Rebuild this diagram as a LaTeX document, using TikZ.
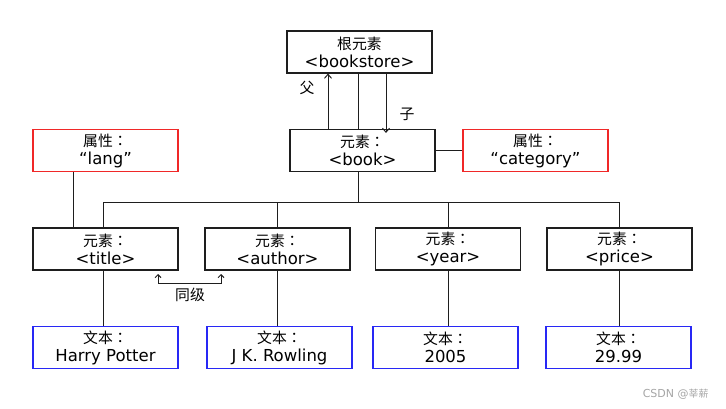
\documentclass[tikz,border=0pt]{standalone}
\usepackage{fontspec}
\setmainfont{DejaVu Sans}
\newfontfamily\cjk[Scale=0.9]{Noto Sans CJK TC}
\usetikzlibrary{arrows.meta}

\definecolor{attrred}{RGB}{240,40,40}
\definecolor{textblue}{RGB}{40,40,245}
\definecolor{linegray}{RGB}{30,30,30}

\tikzset{
  box/.style={draw=linegray, line width=1.1pt, minimum width=145, minimum height=42,
    inner sep=0pt, align=center, font=\fontsize{16.5}{18}\selectfont},
  elem/.style={box},
  attr/.style={box, draw=attrred},
  txt/.style={box, draw=textblue},
  link/.style={draw=linegray, line width=1pt},
  flow/.style={link, -{Straight Barb[length=4pt,width=7pt]}},
  lbl/.style={font=\fontsize{16.5}{18}\selectfont\cjk}
}

\begin{document}
\begin{tikzpicture}[x=1pt,y=-1pt]
\useasboundingbox (0,0) rectangle (726,409);

% Zeilen
\def\ya{52}    % Wurzel
\def\yb{150.5} % book / Attribute
\def\yc{249}   % Elemente
\def\yd{347.5} % Texte

% Wurzel und book
\node[elem] (root) at (359.5,\ya) {{\cjk 根元素}\\<bookstore>};
\node[elem] (book) at (362.5,\yb) {{\cjk 元素：}\\<book>};

% Attribute
\node[attr] (lang) at (105.5,\yb) {{\cjk 属性：}\\“lang”};
\node[attr] (cat) at (535.5,\yb) {{\cjk 属性：}\\“category”};

% Elemente
\node[elem] (title) at (105.5,\yc) {{\cjk 元素：}\\<title>};
\node[elem] (author) at (277.5,\yc) {{\cjk 元素：}\\<author>};
\node[elem] (year) at (448,\yc) {{\cjk 元素：}\\<year>};
\node[elem] (price) at (619.5,\yc) {{\cjk 元素：}\\<price>};

% Texte
\node[txt] (harry) at (105.5,\yd) {{\cjk 文本：}\\Harry Potter};
\node[txt] (rowling) at (279.5,\yd) {{\cjk 文本：}\\J K. Rowling};
\node[txt] (y2005) at (445.5,\yd) {{\cjk 文本：}\\2005};
\node[txt] (p2999) at (618.5,\yd) {{\cjk 文本：}\\29.99};

% Hilfspunkte
\coordinate (trunk) at (358,0);
\coordinate (bus) at (0,203);
\coordinate (langx) at (73,0);
\coordinate (titlex) at (103.5,0);

% Wurzel -- book
\draw[link] (root.south -| trunk) -- (book.north -| trunk);
\draw[flow] (book.north -| 328,0) -- (root.south -| 328,0);
\draw[flow] (root.south -| 386,0) -- ([yshift=-4]book.north -| 386,0);
\node[lbl] (up) at (307,88) {父};
\node[lbl] (down) at (407,114) {子};

% book -- Attribute
\draw[link] (book.east) -- (cat.west);
\draw[link] (lang.south -| langx) -- (title.north -| langx);

% Baum
\draw[link] (book.south -| trunk) -- (bus -| trunk);
\draw[link] (title.north -| titlex) |- (bus -| price.north) -- (price.north);
\draw[link] (bus -| author.north) -- (author.north);
\draw[link] (bus -| year.north) -- (year.north);

% Elemente -- Texte
\draw[link] (title.south -| titlex) -- (harry.north -| titlex);
\draw[link] (author.south) -- (author.south |- rowling.north);
\draw[link] (year.south) -- (year.south |- y2005.north);
\draw[link] (price.south) -- (price.south |- p2999.north);

% Geschwister
\coordinate (sibL) at (158,274);
\coordinate (sibR) at (221,274);
\draw[link, {Straight Barb[length=3pt,width=6pt]}-{Straight Barb[length=3pt,width=6pt]}]
  (sibL) -- ++(0,9) -| (sibR);
\node[lbl] (sib) at (190,295) {同级};

% Wasserzeichen
\node[font=\fontsize{11}{12}\selectfont, text=gray!70, anchor=east] (mark) at (712,394)
  {CSDN @{\cjk 莘薪}};
\end{tikzpicture}
\end{document}
